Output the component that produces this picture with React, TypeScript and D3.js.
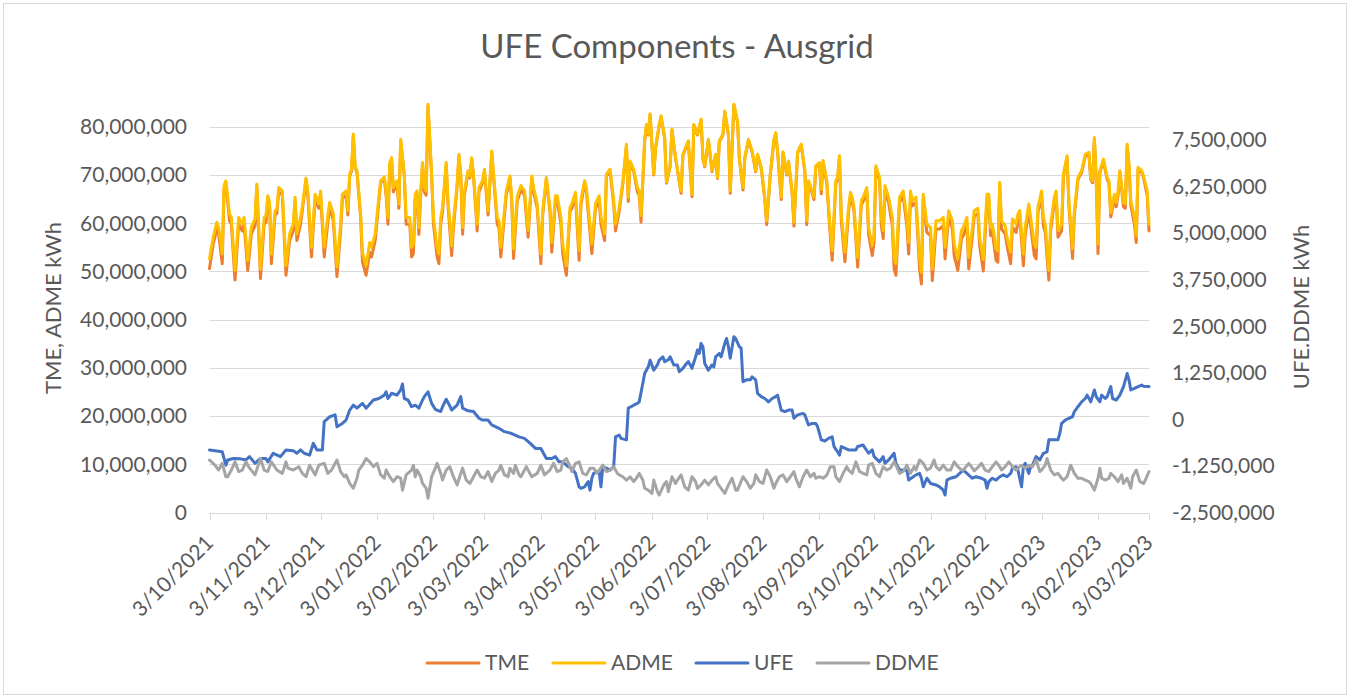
import React from "react";
import * as d3 from "d3";

// ---------- DATA (values in millions of kWh) ----------
const chartTitle = "UFE Components - Ausgrid";
const seriesNames = ["TME", "ADME", "UFE", "DDME"];
const seriesColors = ["#ED7D31", "#FFC000", "#4472C4", "#A5A5A5"];
const startDateLabel = "3/10/2021";

const xTickLabels = [
  "3/10/2021", "3/11/2021", "3/12/2021", "3/01/2022", "3/02/2022", "3/03/2022",
  "3/04/2022", "3/05/2022", "3/06/2022", "3/07/2022", "3/08/2022", "3/09/2022",
  "3/10/2022", "3/11/2022", "3/12/2022", "3/01/2023", "3/02/2023", "3/03/2023",
];
const leftTicksM = [0, 10, 20, 30, 40, 50, 60, 70, 80];
const rightTicksM = [-2.5, -1.25, 0, 1.25, 2.5, 3.75, 5, 6.25, 7.5];
const leftDomainM = [0, 85];
const rightDomainM = [-2.5, 8.5];

// day offsets from 3/10/2021 for TME / ADME samples
const loadDays = [
  0, 2, 4, 5, 7, 8, 9, 11, 12, 14, 16, 18, 19, 21, 23, 25, 26, 28, 30, 31, 32, 33, 34, 36, 37, 38, 40, 42, 44, 46, 47, 48, 50, 51, 53, 54, 56, 58, 60, 61, 63, 65, 66, 68, 70, 72, 73, 75, 76, 77, 78, 79, 80, 81, 83, 84, 86, 88, 89, 91, 93, 94, 96, 97, 98, 99, 100, 101, 103, 104, 105, 107, 108, 110, 111, 112, 113, 114, 115, 116, 117, 118, 119, 120, 122, 123, 125, 126, 127, 128, 130, 131, 133, 134, 136, 137, 138, 139, 140, 142, 143, 144, 145, 147, 148, 150, 151, 153, 155, 156, 158, 159, 160, 162, 163, 165, 166, 167, 169, 170, 171, 173, 175, 177, 178, 180, 182, 183, 185, 187, 188, 190, 191, 193, 194, 196, 198, 199, 201, 203, 204, 206, 207, 210, 212, 214, 215, 217, 218, 220, 222, 223, 225, 227, 229, 230, 231, 233, 235, 236, 237, 239,
  240, 241, 242, 244, 245, 247, 248, 250, 251, 253, 254, 255, 256, 258, 259, 260, 263, 265, 266, 268, 270, 271, 272, 274, 276, 278, 279, 280, 282, 283, 285, 286, 288, 290, 291, 293, 294, 296, 298, 300, 301, 303, 305, 306, 308, 310, 311, 312, 314, 315, 317, 318, 320, 321, 323, 325, 327, 328, 329, 331, 332, 333, 335,
  336, 337, 339, 341, 342, 344, 345, 346, 347, 349, 351, 352, 353, 354, 356, 358, 359, 361, 362, 364,
  365, 366, 368, 369, 370, 371, 373, 375, 376, 377, 379, 381, 383, 384, 385, 386, 388, 390, 391, 392, 394, 396, 397, 399, 401, 403, 404, 406, 408, 409, 411, 413, 414, 416, 417, 419, 420, 422, 423, 425, 427, 428, 429, 430, 432, 433, 434, 435, 437, 438, 440, 441, 443, 444, 445, 447, 448, 450, 451, 453, 454, 455, 457, 458, 459,
  461, 462, 464, 465, 466, 468, 469, 471, 472, 474, 475, 477, 479, 481, 483, 484, 485, 486, 487, 488, 489, 491, 493, 494, 495, 497, 498, 499, 500, 502, 503, 504, 505, 506, 508, 509, 510, 512, 513, 515, 516,
];
const admeM = [
  52.6, 57.0, 60.2, 59.2, 53.6, 67.8, 68.8, 61.9, 61.2, 50.2, 61.2, 59.8, 61.2, 52.2, 59.2, 60.9, 68.1, 50.5, 61.2, 61.6, 65.7, 64.3, 53.6, 62.6, 62.9, 67.4, 66.7, 51.2, 57.8, 59.8, 65.4, 57.8, 61.2, 63.6, 69.4, 66.7, 55.0, 66.0, 64.0, 66.7, 55.0, 61.6, 64.3, 61.9, 50.9, 59.8, 66.0, 66.7, 62.6, 70.2, 71.2, 78.5, 71.9, 70.9, 62.0, 54.0, 51.2, 56.0, 55.0, 57.8, 65.4, 68.8, 69.6, 66.7, 61.2, 72.6, 73.6, 67.4, 68.8, 64.0, 77.4, 70.2, 61.2, 61.2, 55.0, 55.7, 66.0, 66.7, 59.1, 66.7, 72.6, 67.4, 66.7, 84.7, 70.2, 61.2, 55.0, 53.6, 61.2, 63.3, 72.6, 64.7, 55.3, 60.5, 68.1, 74.3, 70.2, 59.1, 66.7, 70.9, 69.8, 73.6, 70.2, 59.8, 67.4, 68.8, 71.2, 62.6, 75.0, 70.2, 61.2, 60.5, 55.0, 62.6, 66.7, 69.8, 65.4, 54.7, 65.4, 66.7, 67.8, 66.7, 58.5, 69.8, 67.4, 64.0, 53.6, 62.6, 69.5, 63.3, 56.0, 65.7, 65.7, 61.2, 55.7, 51.2, 63.3, 64.0, 66.4, 54.3, 64.7, 68.8, 67.4, 55.7, 64.0, 65.7, 61.2, 57.8, 70.2, 71.2, 64.7, 59.8, 63.3, 68.5, 76.4, 65.4, 72.9, 71.2, 67.4, 66.7, 61.6, 77.4,
  80.5, 78.5, 82.7, 70.2, 75.7, 80.5, 82.3, 77.8, 68.5, 72.0, 79.5, 76.4, 73.6, 68.8, 66.7, 74.3, 77.1, 66.0, 80.5, 78.5, 81.6, 73.6, 71.9, 77.4, 70.9, 74.3, 69.5, 77.1, 78.5, 83.3, 78.5, 66.7, 84.7, 81.2, 73.6, 67.4, 73.6, 77.4, 75.0, 70.9, 74.3, 71.6, 65.4, 60.5, 70.2, 77.4, 78.8, 75.0, 65.4, 74.8, 70.2, 72.9, 66.7, 60.2, 74.8, 76.4, 70.9, 60.5, 68.8, 66.7, 65.4, 71.9, 72.6,
  67.0, 73.0, 68.8, 58.5, 54.3, 68.8, 69.5, 74.0, 61.9, 54.0, 63.3, 66.4, 65.4, 63.3, 52.9, 64.7, 65.4, 67.4, 59.1, 55.3,
  57.8, 71.9, 69.5, 61.2, 58.5, 67.8, 65.4, 61.2, 52.9, 51.6, 65.4, 66.7, 61.2, 56.0, 66.7, 64.7, 65.4, 52.9, 49.8, 66.0, 59.8, 59.1, 50.5, 60.5, 60.5, 61.2, 55.0, 62.6, 60.5, 55.7, 52.6, 58.5, 59.1, 61.2, 52.9, 59.1, 62.6, 63.1, 57.0, 52.5, 66.0, 66.0, 59.1, 59.8, 54.7, 54.3, 68.5, 60.5, 59.5, 57.1, 54.0, 60.9, 59.8, 61.9, 62.6, 53.6, 59.1, 64.0, 61.2, 55.7, 55.0, 63.3, 66.7, 61.2, 59.8,
  50.2, 59.8, 65.4, 66.7, 58.5, 59.8, 70.2, 74.0, 64.7, 54.7, 62.6, 69.5, 70.9, 74.3, 74.7, 69.5, 68.8, 77.8, 69.5, 55.7, 70.9, 73.3, 69.5, 68.8, 62.2, 66.0, 64.3, 66.7, 70.9, 64.3, 64.0, 76.4, 72.3, 64.7, 61.2, 57.4, 71.6, 70.9, 69.8, 66.7, 59.8,
];
const tmeM = [
  50.6, 55.6, 58.8, 57.8, 51.6, 66.9, 68.4, 60.5, 59.8, 48.2, 59.8, 58.4, 59.8, 50.2, 57.8, 59.5, 67.7, 48.5, 59.8, 60.2, 64.8, 63.4, 51.6, 61.7, 62.0, 66.5, 65.8, 49.2, 56.4, 58.4, 64.5, 56.4, 59.8, 62.7, 69.0, 65.8, 53.0, 65.1, 63.1, 65.8, 53.0, 60.2, 63.4, 60.5, 48.9, 58.4, 65.1, 65.8, 61.7, 69.8, 70.8, 78.1, 71.5, 70.5, 61.1, 52.0, 49.2, 54.0, 53.0, 56.4, 64.5, 68.4, 69.2, 65.8, 59.8, 72.2, 73.2, 66.5, 68.4, 63.1, 77.0, 69.8, 59.8, 59.8, 53.0, 53.7, 65.1, 65.8, 57.7, 65.8, 72.2, 66.5, 65.8, 84.3, 69.8, 59.8, 53.0, 51.6, 59.8, 62.4, 72.2, 63.8, 53.3, 59.1, 67.7, 73.9, 69.8, 57.7, 65.8, 70.5, 69.4, 73.2, 69.8, 58.4, 66.5, 68.4, 70.8, 61.7, 74.6, 69.8, 59.8, 59.1, 53.0, 61.7, 65.8, 69.4, 64.5, 52.7, 64.5, 65.8, 66.9, 65.8, 57.1, 69.4, 66.5, 63.1, 51.6, 61.7, 69.1, 62.4, 54.0, 64.8, 64.8, 59.8, 53.7, 49.2, 62.4, 63.1, 65.5, 52.3, 63.8, 68.4, 66.5, 53.7, 63.1, 64.8, 59.8, 56.4, 69.8, 70.8, 63.8, 58.4, 62.4, 68.1, 76.0, 64.5, 72.5, 70.8, 66.5, 65.8, 60.2, 77.0,
  80.3, 78.3, 82.5, 70.0, 75.5, 80.3, 82.1, 77.6, 68.3, 71.8, 79.3, 76.2, 73.4, 68.6, 66.2, 74.1, 76.9, 65.5, 80.3, 78.3, 81.4, 73.4, 71.7, 77.2, 70.7, 74.1, 69.3, 76.9, 78.3, 83.1, 78.3, 66.2, 84.5, 81.0, 73.4, 66.9, 73.4, 77.2, 74.8, 70.7, 74.1, 71.4, 64.9, 59.7, 70.0, 77.2, 78.6, 74.8, 64.9, 74.6, 70.0, 72.7, 66.2, 59.4, 74.6, 76.2, 70.7, 59.7, 68.6, 66.2, 64.9, 71.7, 72.4,
  66.1, 72.6, 68.4, 57.1, 52.3, 68.4, 69.1, 73.6, 60.5, 52.0, 62.4, 65.5, 64.5, 62.4, 50.9, 63.8, 64.5, 66.5, 57.7, 53.3,
  56.1, 71.4, 69.0, 59.5, 56.8, 66.7, 64.3, 59.5, 50.5, 49.2, 64.3, 65.6, 59.5, 53.6, 65.6, 63.6, 64.3, 50.5, 47.4, 64.9, 58.1, 57.4, 48.1, 58.8, 58.8, 59.5, 52.6, 61.5, 58.8, 53.3, 50.2, 56.8, 57.4, 59.5, 50.5, 57.4, 61.5, 62.0, 55.3, 50.1, 64.9, 64.9, 57.4, 58.1, 52.3, 51.9, 68.0, 58.8, 57.8, 55.4, 51.6, 59.2, 58.1, 60.2, 61.5, 51.2, 57.4, 62.9, 59.5, 53.3, 52.6, 62.2, 65.6, 59.5, 58.1,
  48.2, 58.4, 64.5, 65.8, 57.1, 58.4, 69.8, 73.6, 63.8, 52.7, 61.7, 69.1, 70.5, 73.9, 74.3, 69.1, 68.4, 77.4, 69.1, 53.7, 70.5, 72.9, 69.1, 68.4, 61.3, 65.1, 63.4, 65.8, 70.5, 63.4, 63.1, 76.0, 71.9, 63.8, 59.8, 56.0, 71.2, 70.5, 69.4, 65.8, 58.4,
];

const ufeDays = [
  0, 3, 7, 9, 10, 13, 17, 20, 22, 25, 28, 31, 32, 35, 39, 42, 46, 48, 50, 52, 55, 57, 59, 62, 63, 66, 69, 70, 73, 75, 77, 79, 81, 84, 86, 90, 93, 96, 97, 98, 100, 103, 105, 106, 107, 109, 111, 113, 115, 117, 118, 120, 122, 124, 127, 128, 130, 132, 133, 136, 138, 139, 142, 145, 148, 150, 153, 155, 159, 162, 166, 170, 173, 176, 179, 182, 183, 185, 188, 190, 192, 194, 197, 199, 201, 203, 204, 206, 208, 209, 210, 211, 213, 214, 215, 216, 218, 220, 222, 223, 225, 226, 229, 230, 233, 235, 236, 238, 239, 241, 242, 244, 246, 247, 249, 250, 252, 253, 255, 257, 258, 260, 262, 263, 265, 267, 268, 269, 270, 271, 272, 274, 276, 277, 278, 280, 281, 283, 284, 285, 286, 288, 289, 291, 292, 293, 295, 297, 298, 300, 301, 303, 305, 307, 309, 311, 312, 314, 316, 318, 320, 321, 323, 326, 327, 329, 331, 333, 334, 336, 338, 340, 342, 343, 345, 346, 347, 351, 355, 356, 359, 362, 364, 365, 368, 370, 371, 373, 376, 377, 379, 383, 384, 388, 390, 391, 392, 394, 396, 399, 401, 403, 404, 405, 407, 410, 412, 414, 416, 418, 419, 421, 424, 426, 427, 428, 430, 432, 434, 436, 438, 440, 441, 443, 444, 446, 447, 448, 450, 451, 452, 454, 456, 457, 458, 460, 461, 466, 467, 468, 470, 472, 474, 475, 477, 479, 481, 482, 484, 486, 487, 489, 490, 492, 493, 495, 496, 498, 500, 502, 504, 505, 506, 508, 510, 512, 513, 516,
];
const ufeM = [
  -0.82, -0.84, -0.87, -1.23, -1.09, -1.05, -1.06, -1.09, -1.0, -1.18, -1.05, -1.05, -1.14, -0.91, -1.0, -0.82, -0.84, -0.91, -0.82, -0.91, -0.96, -0.64, -0.82, -0.82, -0.06, 0.07, 0.12, -0.2, -0.11, -0.02, 0.25, 0.38, 0.3, 0.43, 0.3, 0.52, 0.56, 0.65, 0.74, 0.56, 0.7, 0.65, 0.79, 0.95, 0.56, 0.52, 0.34, 0.38, 0.3, 0.52, 0.61, 0.74, 0.43, 0.27, 0.21, 0.34, 0.54, 0.36, 0.25, 0.38, 0.61, 0.3, 0.23, 0.21, 0.03, -0.02, -0.02, -0.15, -0.24, -0.33, -0.38, -0.47, -0.51, -0.64, -0.78, -0.78, -0.87, -1.05, -1.05, -1.0, -1.14, -1.14, -1.27, -1.31, -1.45, -1.81, -1.85, -1.81, -1.67, -1.9, -1.58, -1.45, -1.4, -1.4, -1.81, -1.27, -1.31, -1.36, -1.27, -0.47, -0.42, -0.51, -0.55, 0.3, 0.38, 0.43, 0.47, 0.97, 1.23, 1.41, 1.59, 1.32, 1.46, 1.59, 1.68, 1.55, 1.6, 1.68, 1.46, 1.46, 1.28, 1.37, 1.5, 1.55, 1.37, 1.68, 1.86, 1.77, 2.04, 1.95, 1.5, 1.32, 1.46, 1.41, 1.68, 1.77, 1.68, 2.04, 2.17, 1.95, 1.64, 2.22, 2.17, 1.95, 1.91, 1.01, 1.06, 1.06, 1.14, 1.06, 0.7, 0.61, 0.56, 0.47, 0.56, 0.61, 0.65, 0.25, 0.21, 0.25, 0.25, 0.03, 0.12, 0.16, 0.12, -0.15, -0.11, -0.11, -0.2, -0.55, -0.58, -0.51, -0.47, -0.73, -0.87, -0.96, -0.73, -0.82, -0.82, -0.73, -0.69, -0.91, -0.82, -1.0, -1.14, -1.0, -1.18, -1.09, -0.91, -1.18, -1.36, -1.36, -1.63, -1.49, -1.45, -1.58, -1.81, -1.58, -1.72, -1.76, -1.81, -1.9, -2.03, -1.63, -1.58, -1.54, -1.45, -1.36, -1.45, -1.54, -1.58, -1.54, -1.58, -1.63, -1.85, -1.67, -1.58, -1.63, -1.54, -1.49, -1.54, -1.45, -1.31, -1.27, -1.36, -1.81, -1.27, -1.18, -1.45, -1.27, -1.23, -1.0, -1.09, -1.0, -0.91, -0.87, -0.55, -0.55, -0.38, -0.11, -0.02, 0.03, 0.07, 0.21, 0.34, 0.47, 0.56, 0.65, 0.47, 0.79, 0.61, 0.47, 0.65, 0.56, 0.61, 0.88, 0.56, 0.52, 0.65, 0.88, 1.23, 1.06, 0.79, 0.83, 0.88, 0.92, 0.89, 0.88,
];

const ddmeDays = [
  0, 3, 5, 7, 9, 10, 12, 14, 16, 18, 20, 22, 25, 28, 30, 32, 34, 37, 40, 42, 43, 46, 49, 51, 53, 55, 58, 60, 63, 65, 67, 70, 72, 74, 75, 77, 79, 81, 82, 84, 86, 88, 90, 92, 94, 96, 97, 99, 101, 103, 105, 106, 108, 111, 112, 113, 114, 116, 117, 119, 120, 122, 124, 125, 127, 128, 130, 132, 134, 136, 138, 139, 141, 143, 145, 147, 149, 151, 153, 155, 157, 159, 160, 162, 164, 165, 167, 168, 170, 171, 174, 177, 180, 182, 184, 187, 189, 191, 193, 194, 196, 198, 199, 201, 203, 205, 207, 209, 211, 213, 214, 216, 218, 220, 222, 224, 225, 227, 229, 231, 233, 235, 236, 238, 239, 241, 243, 244, 246, 247, 249, 250, 251, 252, 254, 256, 257, 259, 261, 263, 265, 267, 268, 270, 272, 274, 276, 278, 279, 281, 283, 285, 287, 289, 290, 293, 295, 297, 299, 300, 302, 304, 306, 308, 310, 311, 313, 315, 317, 319, 321, 322, 324, 326, 328, 330, 332, 333, 335, 337, 339, 341, 343, 344, 346, 348, 350, 351, 353, 355, 357, 359, 361, 362, 364, 366, 368, 370, 372, 374, 376, 377, 379, 381, 383, 385, 387, 388, 390, 392, 394, 396, 398, 399, 401, 403, 405, 407, 409, 411, 413, 414, 417, 419, 420, 422, 424, 426, 428, 430, 432, 434, 435, 437, 439, 441, 443, 445, 446, 448, 450, 452, 454, 456, 457, 459, 460, 462, 464, 466, 468, 469, 471, 473, 475, 477, 479, 481, 483, 484, 486, 488, 489, 490, 492, 494, 495, 497, 499, 501, 502, 504, 506, 507, 509, 511, 513, 514, 516,
];
const ddmeM = [
  -1.09, -1.23, -1.36, -1.18, -1.54, -1.54, -1.36, -1.14, -1.4, -1.36, -1.14, -1.31, -1.49, -1.05, -1.36, -1.4, -1.14, -1.36, -1.45, -1.14, -1.31, -1.36, -1.27, -1.45, -1.54, -1.23, -1.49, -1.23, -1.18, -1.45, -1.36, -1.09, -1.4, -1.54, -1.49, -1.72, -1.85, -1.58, -1.36, -1.23, -1.05, -1.14, -1.27, -1.18, -1.49, -1.58, -1.36, -1.54, -1.67, -1.54, -1.58, -1.9, -1.49, -1.36, -1.23, -1.54, -1.36, -1.54, -1.72, -1.85, -2.12, -1.54, -1.31, -1.18, -1.45, -1.63, -1.36, -1.27, -1.54, -1.76, -1.45, -1.31, -1.63, -1.72, -1.54, -1.36, -1.54, -1.58, -1.4, -1.67, -1.45, -1.36, -1.23, -1.49, -1.54, -1.31, -1.45, -1.23, -1.49, -1.54, -1.27, -1.54, -1.45, -1.23, -1.49, -1.36, -1.18, -1.4, -1.36, -1.14, -1.05, -1.27, -1.4, -1.18, -1.14, -1.45, -1.49, -1.31, -1.31, -1.45, -1.36, -1.23, -1.4, -1.36, -1.27, -1.45, -1.49, -1.54, -1.63, -1.54, -1.67, -1.54, -1.45, -1.63, -1.85, -1.9, -1.99, -1.63, -1.94, -2.03, -1.81, -1.72, -1.67, -1.94, -1.54, -1.72, -1.63, -1.49, -1.81, -1.9, -1.54, -1.67, -1.85, -1.76, -1.63, -1.76, -1.63, -1.54, -1.72, -1.85, -1.99, -1.76, -1.58, -1.9, -1.9, -1.54, -1.67, -1.85, -1.72, -1.49, -1.67, -1.72, -1.36, -1.54, -1.85, -1.72, -1.54, -1.49, -1.67, -1.54, -1.4, -1.58, -1.81, -1.54, -1.36, -1.54, -1.45, -1.58, -1.54, -1.58, -1.5, -1.27, -1.27, -1.54, -1.67, -1.45, -1.27, -1.36, -1.45, -1.14, -1.4, -1.45, -1.49, -1.23, -1.18, -1.45, -1.54, -1.27, -1.36, -1.31, -1.14, -1.23, -1.45, -1.4, -1.23, -1.45, -1.27, -1.36, -1.09, -1.18, -1.36, -1.31, -1.09, -1.27, -1.36, -1.23, -1.36, -1.36, -1.14, -1.27, -1.36, -1.36, -1.18, -1.31, -1.38, -1.29, -1.18, -1.36, -1.4, -1.27, -1.14, -1.27, -1.36, -1.27, -1.14, -1.27, -1.36, -1.27, -1.23, -1.31, -1.23, -1.27, -1.09, -1.4, -1.36, -1.23, -1.05, -1.36, -1.49, -1.45, -1.58, -1.63, -1.54, -1.23, -1.45, -1.58, -1.58, -1.63, -1.67, -1.72, -1.9, -1.58, -1.31, -1.58, -1.63, -1.58, -1.45, -1.54, -1.67, -1.49, -1.72, -1.58, -1.85, -1.54, -1.36, -1.67, -1.72, -1.63, -1.4,
];

const leftAxisTitle = "TME, ADME kWh";
const rightAxisTitle = "UFE.DDME kWh";

// ---------- COMPONENT ----------
const FONT = "Lato, 'Open Sans', sans-serif";
const TEXT = "#595959";
const GRID = "#D9D9D9";

const fmt = d3.formatLocale({ decimal: ".", thousands: ",", grouping: [3], currency: ["$", ""], minus: "-" }).format(",");

export default function App() {
  const W = 1352;
  const H = 698;
  const plot = { left: 209.5, right: 1149, top: 102.7, bottom: 512.5 };

  const parse = d3.timeParse("%d/%m/%Y");
  const start = parse(startDateLabel) as Date;
  const tickDates = xTickLabels.map((s) => parse(s) as Date);

  const x = d3.scaleTime().domain([tickDates[0], tickDates[tickDates.length - 1]]).range([plot.left, plot.right]);
  const yL = d3.scaleLinear().domain(leftDomainM).range([plot.bottom, plot.top]);
  const yR = d3.scaleLinear().domain(rightDomainM).range([plot.bottom, plot.top]);

  const toDate = (d: number) => d3.timeDay.offset(start, d);

  const mk = (days: number[], vals: number[]) => days.map((d, i) => ({ date: toDate(d), v: vals[i] }));
  const tme = mk(loadDays, tmeM);
  const adme = mk(loadDays, admeM);
  const ufe = mk(ufeDays, ufeM);
  const ddme = mk(ddmeDays, ddmeM);

  const lineL = d3.line<{ date: Date; v: number }>().x((p) => x(p.date)).y((p) => yL(p.v));
  const lineR = d3.line<{ date: Date; v: number }>().x((p) => x(p.date)).y((p) => yR(p.v));

  const legendX = [427, 553, 696, 817];

  return (
    <div style={{ width: W, height: H }}>
      <style>{"body{margin:0}"}</style>
      <svg width={W} height={H} style={{ display: "block", fontFamily: FONT }}>
        <rect x={0} y={0} width={W} height={H} fill="#fff" />
        <rect x={3.5} y={3.5} width={1343} height={691} fill="none" stroke={GRID} strokeWidth={1} />

        <text x={677} y={58} textAnchor="middle" fontSize={33} fill={TEXT}>{chartTitle}</text>

        {/* gridlines */}
        {leftTicksM.map((t) => (
          <line key={"g" + t} x1={plot.left} x2={plot.right} y1={Math.round(yL(t)) + 0.5} y2={Math.round(yL(t)) + 0.5} stroke={GRID} strokeWidth={1} />
        ))}

        {/* x axis ticks */}
        {tickDates.map((d, i) => (
          <line key={"xt" + i} x1={Math.round(x(d)) + 0.5} x2={Math.round(x(d)) + 0.5} y1={Math.round(plot.bottom) + 0.5} y2={Math.round(plot.bottom) + 7.5} stroke={GRID} strokeWidth={1} />
        ))}

        {/* left labels */}
        {leftTicksM.map((t) => (
          <text key={"l" + t} x={187} y={yL(t)} dy="0.35em" textAnchor="end" fontSize={21} fill={TEXT}>{fmt(t * 1e6)}</text>
        ))}
        {/* right labels */}
        {rightTicksM.map((t) => (
          <text key={"r" + t} x={1172} y={yR(t)} dy="0.35em" textAnchor="start" fontSize={21} fill={TEXT}>{fmt(t * 1e6)}</text>
        ))}
        {/* x labels */}
        {tickDates.map((d, i) => (
          <text key={"xl" + i} transform={`translate(${x(d)},${539}) rotate(-45)`} dy="0.35em" textAnchor="end" fontSize={21} fill={TEXT}>{xTickLabels[i]}</text>
        ))}

        {/* axis titles */}
        <text transform={`translate(61,308) rotate(-90)`} textAnchor="middle" fontSize={22} fill={TEXT}>{leftAxisTitle}</text>
        <text transform={`translate(1309,307) rotate(-90)`} textAnchor="middle" fontSize={22} fill={TEXT}>{rightAxisTitle}</text>

        {/* series */}
        <g fill="none" strokeWidth={3} strokeLinejoin="round" strokeLinecap="round">
          <path d={lineL(tme) || ""} stroke={seriesColors[0]} />
          <path d={lineL(adme) || ""} stroke={seriesColors[1]} />
          <path d={lineR(ufe) || ""} stroke={seriesColors[2]} />
          <path d={lineR(ddme) || ""} stroke={seriesColors[3]} />
        </g>

        {/* bottom axis line */}
        <line x1={plot.left} x2={plot.right} y1={Math.round(plot.bottom) + 0.5} y2={Math.round(plot.bottom) + 0.5} stroke={GRID} strokeWidth={1} />

        {/* legend */}
        {seriesNames.map((n, i) => (
          <g key={n}>
            <line x1={legendX[i]} x2={legendX[i] + 52} y1={663} y2={663} stroke={seriesColors[i]} strokeWidth={3} strokeLinecap="round" />
            <text x={legendX[i] + 58} y={663} dy="0.35em" fontSize={21} fill={TEXT}>{n}</text>
          </g>
        ))}
      </svg>
    </div>
  );
}
